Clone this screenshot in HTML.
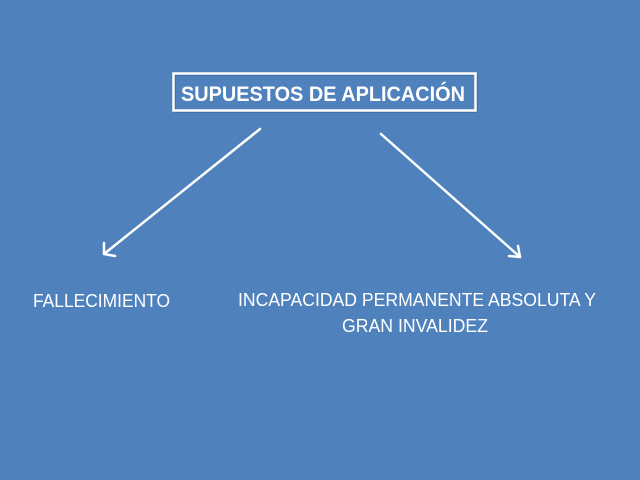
<!DOCTYPE html>
<html><head><meta charset="utf-8">
<style>
html,body{margin:0;padding:0;background:#4f81bd;}
svg{display:block;}
</style></head>
<body>
<svg width="640" height="480" viewBox="0 0 640 480" xmlns="http://www.w3.org/2000/svg">
<rect width="640" height="480" fill="#4f81bd"/>
<rect x="175" y="75" width="302" height="37" fill="none" stroke="#3a5f8c" stroke-width="2" opacity="0.5"/>
<rect x="173.5" y="73.5" width="302" height="37" fill="none" stroke="#fff" stroke-width="2.5"/>
<text x="181" y="101" font-family="Liberation Sans, sans-serif" font-weight="bold" font-size="21" fill="#fff" textLength="284" lengthAdjust="spacingAndGlyphs">SUPUESTOS DE APLICACIÓN</text>
<g stroke="#fff" stroke-width="2.5" fill="none" stroke-linecap="round" stroke-linejoin="round">
<line x1="260" y1="129" x2="104" y2="254"/>
<polyline points="104,243 104,254 115,256"/>
<line x1="381" y1="134" x2="520" y2="257"/>
<polyline points="509,256 520,257 518,246"/>
</g>
<g font-family="Liberation Sans, sans-serif" font-size="18" fill="#fff">
<text x="33" y="307" textLength="137" lengthAdjust="spacingAndGlyphs">FALLECIMIENTO</text>
<text x="238" y="306" textLength="358" lengthAdjust="spacingAndGlyphs">INCAPACIDAD PERMANENTE ABSOLUTA Y</text>
<text x="342" y="332" textLength="146" lengthAdjust="spacingAndGlyphs">GRAN INVALIDEZ</text>
</g>
</svg>
</body></html>
